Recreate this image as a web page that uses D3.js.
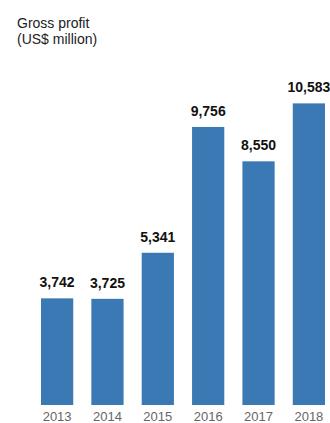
<!DOCTYPE html>
<html>
<head>
<meta charset="utf-8">
<script src="https://cdn.jsdelivr.net/npm/d3@7"></script>
<style>
  html, body { margin: 0; padding: 0; background: #fff; }
  svg { display: block; font-family: "Liberation Sans", Arial, sans-serif; }
</style>
</head>
<body>
<svg id="chart" width="330" height="423"></svg>
<script>
// Gross profit by year
const years = ["2013", "2014", "2015", "2016", "2017", "2018"];
const grossProfit = [3742, 3725, 5341, 9756, 8550, 10583];
const titleLines = ["Gross profit", "(US$ million)"];

const svg = d3.select("#chart");
const baseline = 405;

const x = d3.scaleBand()
  .domain(years)
  .range([41, 325])
  .paddingInner(0.36)
  .paddingOuter(0);

const y = d3.scaleLinear()
  .domain([0, 12000])
  .range([baseline, 63]);

const fmt = d3.format(",");
const data = years.map((yr, i) => ({ year: yr, value: grossProfit[i] }));

// title
svg.append("text")
  .attr("x", 17)
  .attr("y", 28)
  .attr("fill", "#222")
  .attr("font-size", 14)
  .selectAll("tspan")
  .data(titleLines)
  .join("tspan")
  .attr("x", 17)
  .attr("dy", (d, i) => i === 0 ? 0 : 16)
  .text(d => d);

// bars
svg.append("g")
  .selectAll("rect")
  .data(data)
  .join("rect")
  .attr("x", d => x(d.year))
  .attr("y", d => y(d.value))
  .attr("width", x.bandwidth())
  .attr("height", d => y(0) - y(d.value))
  .attr("fill", "#3a79b4");

// value labels
svg.append("g")
  .selectAll("text")
  .data(data)
  .join("text")
  .attr("x", d => x(d.year) + x.bandwidth() / 2)
  .attr("y", d => y(d.value) - 11)
  .attr("text-anchor", "middle")
  .attr("font-size", 14)
  .attr("font-weight", "bold")
  .attr("fill", "#111")
  .text(d => fmt(d.value));

// year axis
const xAxis = svg.append("g")
  .attr("transform", `translate(0,${baseline})`)
  .call(d3.axisBottom(x).tickSize(0).tickPadding(7));
xAxis.select(".domain").remove();
xAxis.selectAll("text")
  .attr("font-size", 13)
  .attr("font-family", "Liberation Sans, Arial, sans-serif")
  .attr("fill", "#666");
</script>
</body>
</html>
